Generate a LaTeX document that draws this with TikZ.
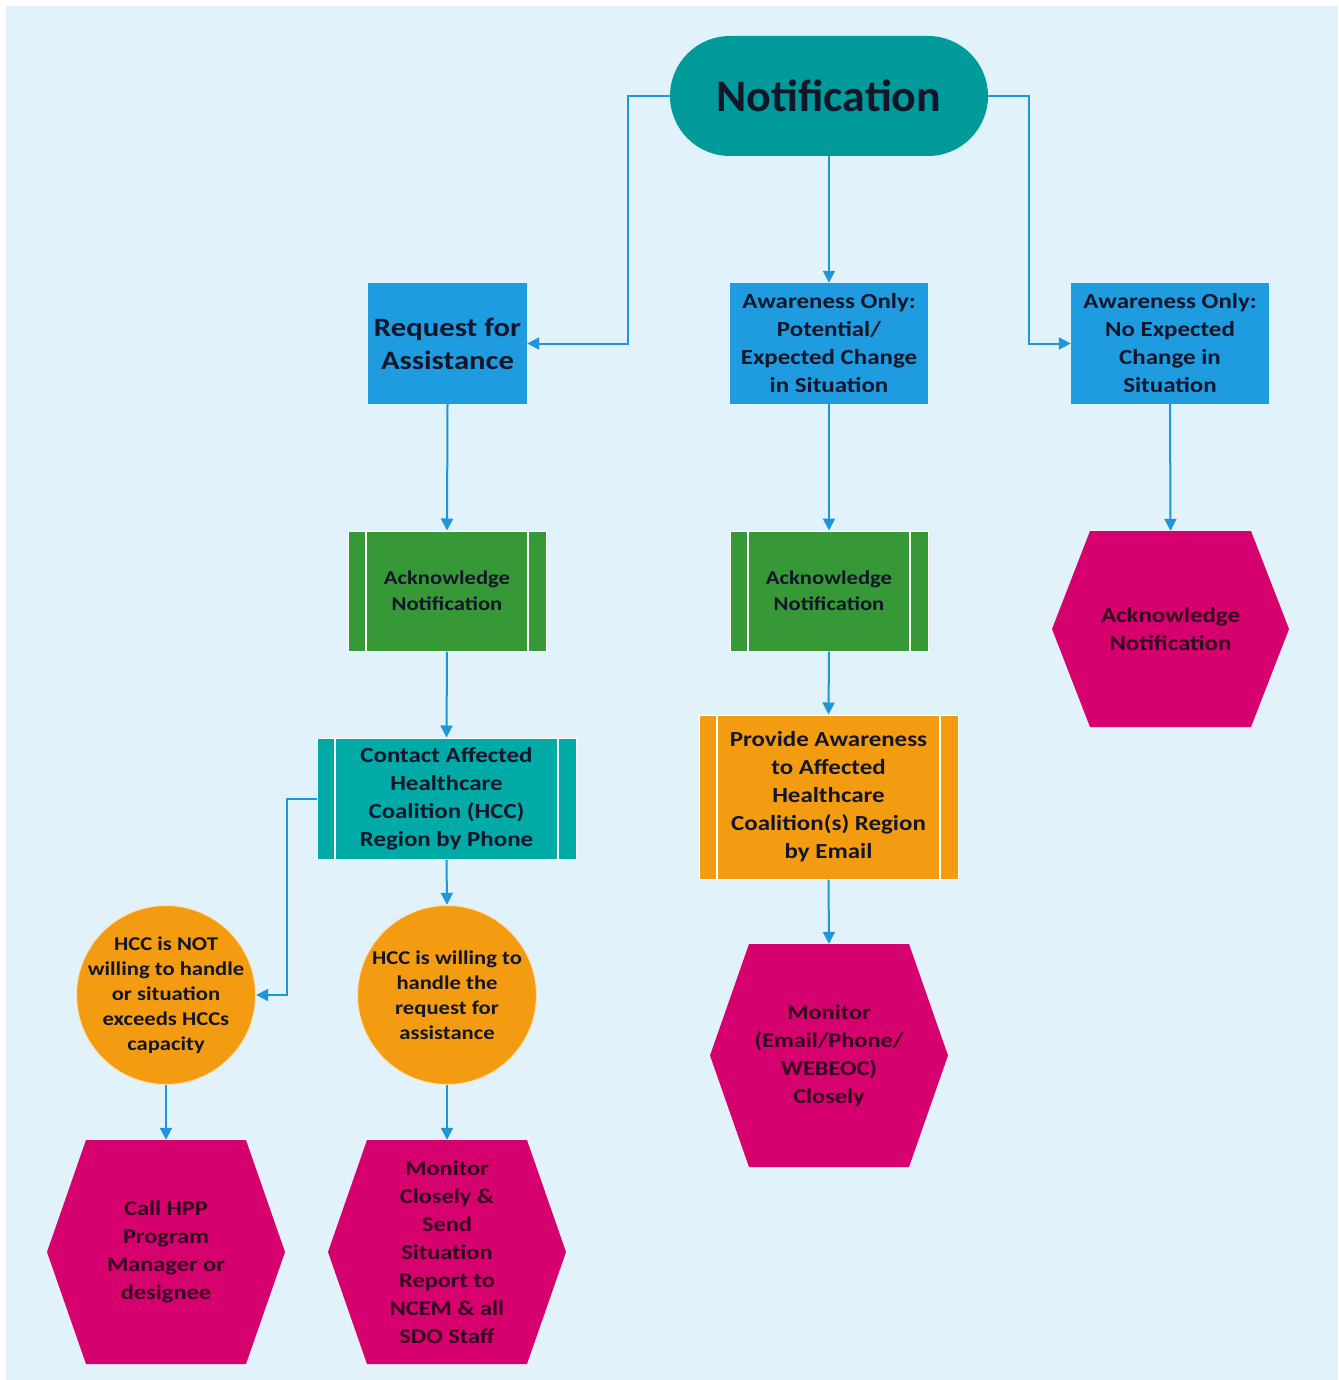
\documentclass[tikz,border=0pt]{standalone}
\usepackage{fontspec}
\setmainfont{Carlito}[FakeStretch=1.16]
\newfontfamily\headfont{Carlito}[FakeStretch=1.02]
\usetikzlibrary{arrows.meta,calc}

\definecolor{bgblue}{RGB}{226,242,251}
\definecolor{linkblue}{RGB}{29,150,218}
\definecolor{titleteal}{RGB}{0,154,154}
\definecolor{boxblue}{RGB}{31,155,223}
\definecolor{procgreen}{RGB}{55,152,55}
\definecolor{procteal}{RGB}{0,170,166}
\definecolor{procorange}{RGB}{243,156,18}
\definecolor{endmagenta}{RGB}{214,0,110}
\definecolor{inkdark}{RGB}{18,22,40}
\definecolor{inkplum}{RGB}{48,4,30}

\newcommand{\fs}[2]{\fontsize{#1}{#2}\selectfont\bfseries}

\tikzset{
  base/.style={align=center, inner sep=0pt, text=inkdark},
  title/.style={base, rectangle, rounded corners=60pt, fill=titleteal,
    minimum width=318pt, minimum height=120pt, font=\headfont\fs{45}{50}},
  choice/.style={base, rectangle, fill=boxblue, minimum height=121pt},
  process/.style={base, rectangle, draw=white, line width=1pt,
    minimum height=120pt,
    path picture={
      \draw[white, line width=2pt]
        ($(path picture bounding box.north west)+(18,0)$) --
        ($(path picture bounding box.south west)+(18,0)$)
        ($(path picture bounding box.north east)+(-18,0)$) --
        ($(path picture bounding box.south east)+(-18,0)$);
    }},
  % round decision: fixed 180pt disc, independent of the text width
  decision/.style={base, rectangle, minimum width=180pt, minimum height=180pt,
    font=\fs{19.5}{25},
    path picture={
      \fill[procorange, draw=white!70!procorange, line width=1pt]
        (path picture bounding box.center) circle[radius=89.5];
    }},
  outcome/.style={base, rectangle, text=inkplum,
    path picture={
      \fill[endmagenta]
        (path picture bounding box.west) --
        ($(path picture bounding box.north west)+(#1,0)$) --
        ($(path picture bounding box.north east)+(-#1,0)$) --
        (path picture bounding box.east) --
        ($(path picture bounding box.south east)+(-#1,0)$) --
        ($(path picture bounding box.south west)+(#1,0)$) -- cycle;
    }},
  outcome/.default=39,
  link/.style={draw=linkblue, line width=2pt,
    -{Triangle[length=12pt,width=12pt]}},
}

\begin{document}
\begin{tikzpicture}[x=1pt,y=-1pt]
  \useasboundingbox (0,0) rectangle (1338,1380);
  \fill[white] (0,0) rectangle (1338,1380);
  \fill[bgblue] (6,6) rectangle (1338,1380);

  % top of the flow
  \node[title] (notif) at (829,96) {Notification};

  % three kinds of notification
  \node[choice, minimum width=159pt, font=\fs{26.5}{33}] (req) at (447.5,343.5)
    {Request for\\Assistance};
  \node[choice, minimum width=198pt, font=\fs{21.5}{28}] (aw1) at (829,343.5)
    {Awareness Only:\\Potential/\\Expected Change\\in Situation};
  \node[choice, minimum width=198pt, font=\fs{21.5}{28}] (aw2) at (1170,343.5)
    {Awareness Only:\\No Expected\\Change in\\Situation};

  % acknowledgements
  \node[process, fill=procgreen, minimum width=198pt, font=\fs{19.5}{26}] (ack1)
    at (447,591) {Acknowledge\\Notification};
  \node[process, fill=procgreen, minimum width=198pt, font=\fs{19.5}{26}] (ack2)
    at (829,591) {Acknowledge\\Notification};
  \node[outcome=38, minimum width=237pt, minimum height=196pt, font=\fs{21.5}{28}]
    (ack3) at (1170.5,629) {Acknowledge\\Notification};

  % follow-up actions
  \node[process, fill=procteal, minimum width=259pt, minimum height=121pt,
    font=\fs{21.5}{28}] (contact) at (446.5,798.5)
    {Contact Affected\\Healthcare\\Coalition (HCC)\\Region by Phone};
  \node[process, fill=procorange, minimum width=259pt, minimum height=164pt,
    font=\fs{21.5}{28}] (provide) at (828.5,797)
    {Provide Awareness\\to Affected\\Healthcare\\Coalition(s) Region\\by Email};

  % HCC response
  \node[decision] (notwill) at (166,995)
    {HCC is NOT\\willing to handle\\or situation\\exceeds HCCs\\capacity};
  \node[decision] (will) at (447,995)
    {HCC is willing to\\handle the\\request for\\assistance};

  % final steps
  \node[outcome, minimum width=238pt, minimum height=224pt, font=\fs{21}{28}]
    (callhpp) at (166,1252) {Call HPP\\Program\\Manager or\\designee};
  \node[outcome, minimum width=238pt, minimum height=224pt, font=\fs{21}{28}]
    (report) at (447,1252)
    {Monitor\\Closely \&\\Send\\Situation\\Report to\\NCEM \& all\\SDO Staff};
  \node[outcome, minimum width=238pt, minimum height=223pt, font=\fs{21}{28}]
    (monitor) at (829,1055.5)
    {Monitor\\(Email/Phone/\\WEBEOC)\\Closely};

  % connectors
  \draw[link] (notif.west) -- ++(-42,0) |- (req.east);
  \draw[link] (notif.east) -- ++(41,0) |- (aw2.west);
  \draw[link] (notif.south) -- (aw1.north);
  \draw[link] (req.south) -- (ack1.north);
  \draw[link] (aw1.south) -- (ack2.north);
  \draw[link] (aw2.south) -- (ack3.north);
  \draw[link] (ack1.south) -- (contact.north);
  \draw[link] (ack2.south) -- (provide.north);
  \draw[link] (contact.west) -- ++(-30,0) |- (notwill.east);
  \draw[link] (contact.south) -- (will.north);
  \draw[link] (notwill.south) -- (callhpp.north);
  \draw[link] (will.south) -- (report.north);
  \draw[link] (provide.south) -- (monitor.north);
\end{tikzpicture}
\end{document}
